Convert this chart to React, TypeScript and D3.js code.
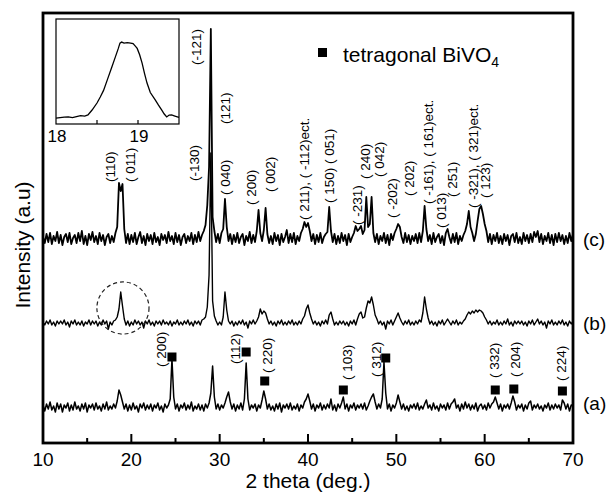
import React, { useEffect, useRef } from 'react';
import * as d3 from 'd3';

// 2 theta sampling of the three patterns
const THETA_START = 10;
const THETA_STEP = 0.2;

// (a) tetragonal-rich sample, intensity above its own baseline
const TRACE_A = [
  2,-4,3,-2,5,-3,1,-5,4,-2, 3,-5,2,-1,4,-4,2,-3,5,-2, 1,-4,3,-2,4,-5,2,-1,3,-3,
  4,-2,1,-4,3,-2,5,-3,1,-2, 3,-1,6,17,12,5,-2,3,-4,2, -3,4,-2,1,-5,3,-1,4,-3,2,
  -2,3,-4,2,-1,4,-3,1,-5,3, -1,2,8,48,10,-2,3,-4,2,-1, 4,-3,2,-2,5,-4,1,-2,3,-3,
  2,-4,3,-1,4,14,41,10,-2,3, -3,2,-1,4,10,15,5,-2,3,-4, 2,-2,4,-3,8,44,8,-3,2,-1,
  3,-4,2,-1,7,16,8,-2,3,-3, 1,-4,3,-2,4,-5,2,-1,3,-2, 4,-3,1,-2,3,-4,2,-1,5,8,
  13,6,-2,3,-4,2,-1,4,-3,2, -2,3,-1,8,-3,2,-4,3,-1,4, 10,-2,3,-4,2,-1,4,-3,2,-1,
  3,-2,4,-3,1,6,10,13,5,-2, 3,-1,8,45,14,-2,3,-4,2,-1, 4,12,5,-2,3,-3,1,-4,2,-1,
  3,-2,4,-3,1,-2,3,7,-1,2, -3,4,-2,1,-4,3,-1,2,-3,4, -2,3,5,8,-1,2,-4,3,-2,5,
  -1,3,-3,2,-2,4,-4,1,3,-2, 2,-3,4,-1,3,5,10,4,-2,3, -4,2,-1,3,-2,4,11,5,-3,2,
  -1,3,-4,2,-2,4,6,-3,2,-1, 3,-2,1,-4,2,-1,4,-3,2,-2, 3,-1,2,-3,7,4,-2,3,-4,2,1,
];

// (b)
const TRACE_B = [
  1,-2,2,-1,3,-2,1,-3,2,-1, 2,-1,3,-2,1,-4,2,-1,3,-2, 1,-2,2,-3,1,-1,3,-2,2,-1,
  2,-3,1,-2,3,-1,2,-6,1,-2, 2,3,6,14,31,17,4,-2,2,-3, 1,-2,3,-1,2,-2,1,-5,2,-1,
  3,-2,1,-3,2,-1,2,-2,3,-1, 1,-2,2,-3,1,-1,3,-2,1,-2, 2,-1,3,-2,1,-3,2,-1,2,-2,
  3,4,6,16,48,170,22,7,2,-2, 1,-2,6,31,13,2,-1,2,-3,1, -2,2,-1,3,-2,1,-5,2,-1,3,
  -1,2,6,14,9,12,10,4,-1,2, -2,1,-3,2,-1,3,-2,1,-2,2, -1,3,-2,1,-2,2,-1,4,7,14,
  18,10,4,-1,2,-2,1,-3,2,-1, 3,-1,8,11,4,-2,1,-2,2,-1, 2,-2,1,-3,2,-1,3,-2,4,9,
  11,5,6,15,22,20,26,18,8,4, -1,2,-2,1,-6,2,-1,3,-2,2, 6,10,5,1,-2,2,-1,3,-2,1,
  -2,2,-1,3,1,10,26,14,5,-1, 2,-2,1,-3,2,-1,3,-2,1,4, 1,-2,2,-1,3,-2,1,-1,2,4,
  8,11,9,12,10,13,11,13,12,10, 6,3,-1,2,-2,1,-1,3,-2,1, -2,2,-1,4,-2,1,-3,2,-1,2,
  -1,2,-2,1,-3,2,-1,3,-2,1, 4,-1,2,-2,1,-5,2,-1,3,-2, 1,-2,2,-1,3,-2,1,-3,2,-1,2,
];

// (c)
const TRACE_C = [
  2,-4,5,-3,6,-5,3,-2,7,-4, 4,-6,2,5,-3,6,-5,1,4,-4, 6,-2,8,-5,3,-6,5,-1,7,-3,
  3,-5,6,-2,4,-6,2,5,-4,3, -3,6,12,56,48,55,10,-4,5,-5, 4,-3,6,-5,2,7,-4,3,-6,5,
  -2,4,-5,6,-3,2,-6,5,-1,4, -4,7,-2,3,-5,6,-3,4,-6,2, 5,-4,3,-2,6,-5,4,-3,7,-2,
  4,8,14,34,72,210,22,8,-3,5, -4,6,10,40,12,-2,5,-5,4,-3, 6,-4,2,5,-6,3,-2,7,-4,4,
  -3,8,29,6,-2,9,31,5,-4,3, -5,6,-2,4,-6,5,-3,2,9,-4, 5,-3,6,-5,3,-2,6,10,17,12,
  16,8,-2,5,-5,4,-3,6,-4,2, 5,7,32,8,-3,5,-5,3,-4,6, -2,4,-6,5,-3,2,6,13,8,10,
  13,5,9,42,12,15,42,6,-3,5, -5,3,-2,6,-4,4,-6,5,-1,6, 10,15,12,2,-4,6,-3,4,-5,3,
  -2,5,-4,6,-3,8,33,10,-2,4, -5,6,-3,2,5,-4,3,-6,6,10, 2,-4,5,-3,6,-5,3,-2,4,8,
  15,28,12,6,-2,5,18,30,33,25, 15,8,-3,5,-5,4,-2,6,-4,3, -5,5,-2,4,-6,3,5,-3,6,-4,
  2,-5,6,-2,4,-4,5,-3,7,2, 8,-3,5,-5,3,-2,6,-4,4,-6, 5,-3,6,-2,4,-5,3,-4,6,-2,5,
];

const SERIES_NAMES = ['(a)', '(b)', '(c)'];
const SERIES_OFFSETS = [36, 120, 204];

const X_TICKS = [10, 20, 30, 40, 50, 60, 70];
const X_MINOR_TICKS = [15, 25, 35, 45, 55, 65];

// tetragonal BiVO4 markers
const SQ_THETA = [24.6, 33.0, 35.1, 44.0, 48.8, 61.2, 63.3, 68.8];
const SQ_LEVEL = [86, 91, 62, 53, 85, 53, 54, 52];

// hkl labels (rotated), anchored at their lower end
const HKL_TEXT = [
  '(110)', '( 011)', '(-130)', '(-121)', '(121)', '( 040)', '( 200)', '( 002)',
  '( 211), ( -112)ect.', '( 150) ( 051)', '( -231)', '( 240)', '( 042)', '( -202)',
  '( 202)', '( -161), ( 161)ect.', '( 013)', '( 251)', '( -321), ( 321)ect.', '( 123)',
  '( 200)', '(112)', '( 220)', '( 103)', '( 312)', '( 332)', '( 204)', '( 224)',
];
const HKL_THETA = [
  17.6, 19.95, 27.1, 27.4, 30.7, 30.7, 33.65, 35.8,
  39.55, 42.4, 45.55, 46.55, 48.15, 49.6,
  51.45, 53.6, 55.15, 56.4, 58.7, 60.1,
  23.45, 31.75, 35.45, 44.5, 47.8, 61.15, 63.45, 68.75,
];
const HKL_LEVEL = [
  261, 261, 262, 378, 319, 248, 238, 251,
  223, 240, 218, 264, 266, 225,
  247, 239, 215, 246, 235, 245,
  76, 79, 70, 63, 66, 65, 66, 62,
];

// inset: zoom of the (110)/(011) reflection of (b)
const INSET_THETA = [
  18.0, 18.05, 18.1, 18.15, 18.2, 18.25, 18.3, 18.35, 18.39, 18.44, 18.5, 18.54, 18.58,
  18.63, 18.68, 18.72, 18.76, 18.78, 18.8, 18.83, 18.87, 18.91, 18.94, 18.97, 18.99,
  19.02, 19.05, 19.08, 19.11, 19.15, 19.21, 19.25, 19.29, 19.32, 19.35, 19.38, 19.41,
  19.45, 19.5,
];
const INSET_INT = [
  5.5, 6, 6.5, 6.7, 6, 7, 8, 7.5, 8.6, 13.3, 20, 25.7, 32,
  43, 54, 63, 72, 77, 78, 77, 77.5, 77, 76.5, 74, 72,
  66, 58, 48, 39, 30, 23, 18, 13.3, 9.5, 6.7, 8.5, 8.6,
  7.5, 6.2,
];
const INSET_TICKS = [18.5, 19];
const INSET_TICK_LABELS = [18, 19];

// dashed circle round the (b) peak near 19 deg
const CIRCLE = { theta: 19.05, level: 135, radius: 2.95 };

const FONT = "'Liberation Sans', Arial, Helvetica, sans-serif";
const TRACE_WIDTHS = [1.5, 1.4, 1.8];

const App = () => {
  const ref = useRef<SVGSVGElement>(null);

  useEffect(() => {
    const W = 609, H = 497;
    const margin = { top: 13, right: 36, bottom: 54, left: 43 };
    const width = W - margin.left - margin.right;
    const height = H - margin.top - margin.bottom;

    const svg = d3.select(ref.current);
    svg.selectAll('*').remove();

    const x = d3.scaleLinear().domain([10, 70]).range([margin.left, margin.left + width]);
    const y = d3.scaleLinear().domain([0, 430]).range([margin.top + height, margin.top]);

    const traces = [TRACE_A, TRACE_B, TRACE_C];
    traces.forEach((tr, k) => {
      const line = d3.line<number>()
        .x((_, i) => x(THETA_START + i * THETA_STEP))
        .y((v) => y(SERIES_OFFSETS[k] + v));
      svg.append('path')
        .datum(tr)
        .attr('fill', 'none')
        .attr('stroke', '#000')
        .attr('stroke-width', TRACE_WIDTHS[k])
        .attr('stroke-linejoin', 'round')
        .attr('d', line);

      svg.append('text')
        .attr('x', x(70) + 10)
        .attr('y', y(SERIES_OFFSETS[k]) + (k === 0 ? -4 : 0))
        .attr('dominant-baseline', 'central')
        .attr('font-family', FONT)
        .attr('font-size', 19)
        .text(SERIES_NAMES[k]);
    });

    // square markers
    svg.selectAll('rect.sq')
      .data(SQ_THETA)
      .enter()
      .append('rect')
      .attr('class', 'sq')
      .attr('x', (d) => x(d) - 4.5)
      .attr('y', (_, i) => y(SQ_LEVEL[i]) - 4.5)
      .attr('width', 9)
      .attr('height', 9)
      .attr('fill', '#000');

    // hkl labels
    svg.selectAll('text.hkl')
      .data(HKL_TEXT)
      .enter()
      .append('text')
      .attr('class', 'hkl')
      .attr('transform', (_, i) => `translate(${x(HKL_THETA[i])},${y(HKL_LEVEL[i])}) rotate(-90)`)
      .attr('dominant-baseline', 'central')
      .attr('font-family', FONT)
      .attr('font-size', 13.5)
      .text((d) => d);

    // dashed circle
    svg.append('circle')
      .attr('cx', x(CIRCLE.theta))
      .attr('cy', y(CIRCLE.level))
      .attr('r', x(CIRCLE.theta + CIRCLE.radius) - x(CIRCLE.theta))
      .attr('fill', 'none')
      .attr('stroke', '#222')
      .attr('stroke-width', 1.2)
      .attr('stroke-dasharray', '4,3');

    // frame
    svg.append('rect')
      .attr('x', margin.left)
      .attr('y', margin.top)
      .attr('width', width)
      .attr('height', height)
      .attr('fill', 'none')
      .attr('stroke', '#000')
      .attr('stroke-width', 2.8);

    // bottom ticks, pointing inward
    svg.selectAll('line.maj')
      .data(X_TICKS)
      .enter()
      .append('line')
      .attr('x1', (d) => x(d)).attr('x2', (d) => x(d))
      .attr('y1', y(0)).attr('y2', y(0) - 9)
      .attr('stroke', '#000').attr('stroke-width', 2);
    svg.selectAll('line.min')
      .data(X_MINOR_TICKS)
      .enter()
      .append('line')
      .attr('x1', (d) => x(d)).attr('x2', (d) => x(d))
      .attr('y1', y(0)).attr('y2', y(0) - 5)
      .attr('stroke', '#000').attr('stroke-width', 2);
    svg.selectAll('text.xt')
      .data(X_TICKS)
      .enter()
      .append('text')
      .attr('x', (d) => x(d))
      .attr('y', y(0) + 23)
      .attr('text-anchor', 'middle')
      .attr('font-family', FONT)
      .attr('font-size', 19)
      .text((d) => d);

    svg.append('text')
      .attr('x', x(40))
      .attr('y', H - 9)
      .attr('text-anchor', 'middle')
      .attr('font-family', FONT)
      .attr('font-size', 21)
      .text('2 theta (deg.)');

    svg.append('text')
      .attr('transform', `translate(22,${y(198)}) rotate(-90)`)
      .attr('text-anchor', 'middle')
      .attr('dominant-baseline', 'central')
      .attr('font-family', FONT)
      .attr('font-size', 21)
      .text('Intensity (a.u)');

    // legend
    svg.append('rect')
      .attr('x', 318).attr('y', 48)
      .attr('width', 9).attr('height', 9)
      .attr('fill', '#000');
    const lt = svg.append('text')
      .attr('x', 343).attr('y', 62)
      .attr('font-family', FONT)
      .attr('font-size', 21);
    lt.append('tspan').text('tetragonal BiVO');
    lt.append('tspan').attr('font-size', 14).attr('dy', 5).text('4');

    // inset
    const xi = d3.scaleLinear().domain([18, 19.5]).range([56, 179]);
    const yi = d3.scaleLinear().domain([0, 100]).range([124, 19]);
    svg.append('rect')
      .attr('x', 56).attr('y', 19)
      .attr('width', 123).attr('height', 105)
      .attr('fill', '#fff')
      .attr('stroke', '#000')
      .attr('stroke-width', 1.2);
    svg.append('path')
      .datum(INSET_THETA)
      .attr('fill', 'none')
      .attr('stroke', '#000')
      .attr('stroke-width', 1.3)
      .attr('d', d3.line<number>()
        .x((d) => xi(d))
        .y((_, i) => yi(INSET_INT[i])));
    svg.selectAll('line.it')
      .data(INSET_TICKS)
      .enter()
      .append('line')
      .attr('x1', (d) => xi(d)).attr('x2', (d) => xi(d))
      .attr('y1', yi(0)).attr('y2', yi(0) - 4)
      .attr('stroke', '#000').attr('stroke-width', 1.2);
    svg.selectAll('text.itl')
      .data(INSET_TICK_LABELS)
      .enter()
      .append('text')
      .attr('x', (d) => xi(d) + 1)
      .attr('y', yi(0) + 18)
      .attr('text-anchor', 'middle')
      .attr('font-family', FONT)
      .attr('font-size', 17)
      .text((d) => d);
  }, []);

  return (
    <svg ref={ref} width={609} height={497}
      style={{ position: 'absolute', left: 0, top: 0, background: '#fff' }} />
  );
};

export default App;
